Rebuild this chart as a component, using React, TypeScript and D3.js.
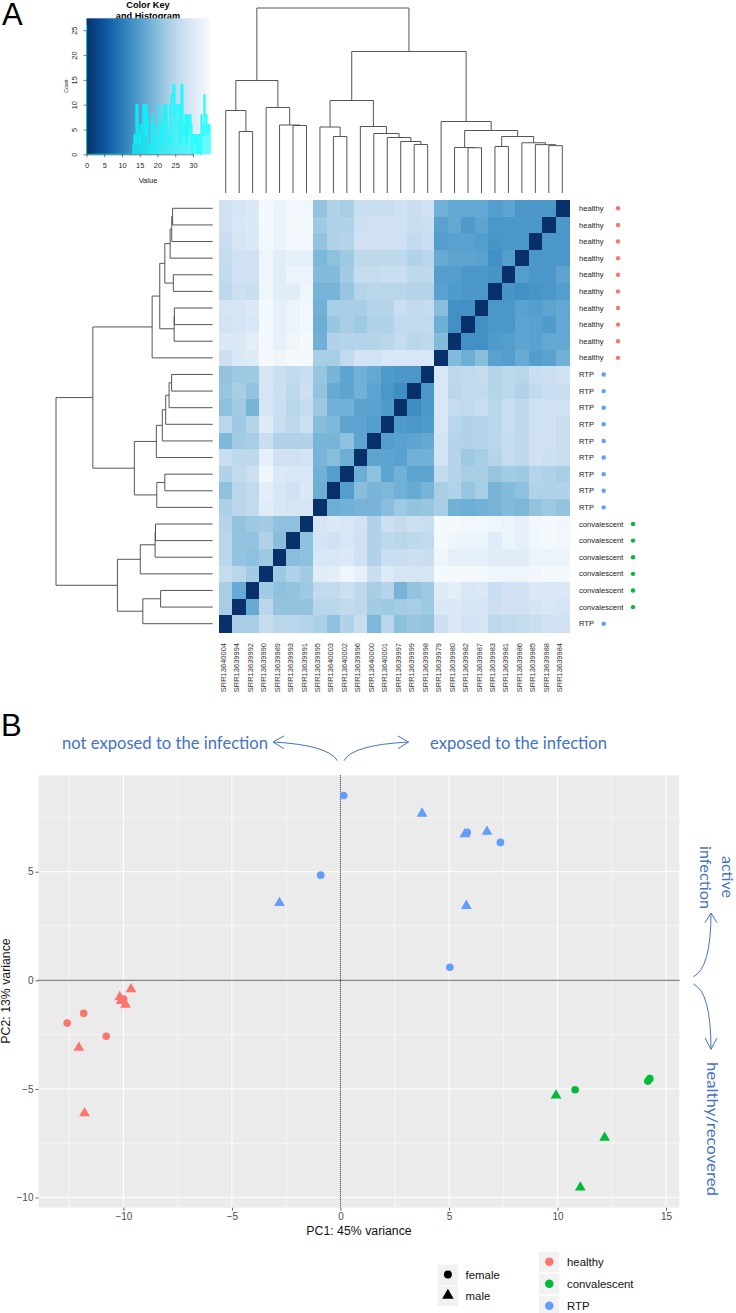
import React from "react";
import * as d3 from "d3";

// leaf order of both dendrograms, left to right along the bottom of the heatmap
const sampleIds = [
  "SRR13640004", "SRR13639994", "SRR13639992", "SRR13639990", "SRR13639989", "SRR13639993", "SRR13639991",
  "SRR13639995", "SRR13640003", "SRR13640002", "SRR13639996", "SRR13640000", "SRR13640001", "SRR13639997",
  "SRR13639999", "SRR13639998", "SRR13639979", "SRR13639980", "SRR13639982", "SRR13639987", "SRR13639983",
  "SRR13639981", "SRR13639986", "SRR13639985", "SRR13639988", "SRR13639984",
];

const rowGroups = [
  "healthy", "healthy", "healthy", "healthy", "healthy", "healthy", "healthy", "healthy", "healthy", "healthy",
  "RTP", "RTP", "RTP", "RTP", "RTP", "RTP", "RTP", "RTP", "RTP",
  "convalescent", "convalescent", "convalescent", "convalescent", "convalescent", "convalescent",
  "RTP",
];

// sample distances, top-left triangle of the matrix (row r holds columns 0..25-r)
const distances = [
  [28, 29, 30, 34.5, 33, 34, 34, 21, 24, 23, 27, 27, 27, 28, 27, 28, 18, 16.5, 16.5, 16.5, 15, 16, 14, 14, 14, 0],
  [28, 29.5, 30, 34.5, 33, 34.5, 34.5, 22, 24, 24, 27.5, 28, 28, 28, 27, 27.5, 15.5, 16.5, 14.5, 16, 14, 14, 14, 14, 0],
  [27, 29, 30, 34, 33, 34, 34, 21, 24, 24.5, 28, 28, 28, 28, 26, 27, 15, 15.5, 15.5, 15, 13.5, 14, 14, 0],
  [26.5, 28, 28, 33.5, 31, 32, 32, 19, 20.5, 22, 25.5, 25.5, 25.5, 25.5, 24, 25, 17, 16, 16, 15.5, 13, 15, 0],
  [26, 28, 28, 33.5, 31, 33, 33, 19.5, 19.5, 22.5, 26.5, 26.5, 27, 27, 25.5, 25.5, 15, 15, 14, 14, 13.5, 0],
  [25.5, 27.5, 27, 33.5, 31, 31, 33.5, 18.5, 18.5, 21.5, 24.5, 25, 25, 25, 24.5, 24.5, 15.5, 14.5, 14, 14, 0],
  [29, 29, 30, 34.5, 32, 33, 34, 18, 23, 23, 23, 24.5, 24.5, 27, 26, 26.5, 20, 13, 13, 0],
  [28.5, 29, 29.5, 34.5, 32, 33, 34, 17.5, 21.5, 23, 22, 24, 24, 26, 26, 26, 17.5, 13, 0],
  [30, 30, 31.5, 34.5, 32, 33.5, 34.5, 18, 24, 24.5, 24.5, 24.5, 25, 26.5, 25, 25.5, 19.5, 0],
  [27.5, 30, 30.5, 34.5, 33.5, 34.5, 34.5, 23, 23, 26, 28.5, 28.5, 29.5, 29.5, 29.5, 29.5, 0],
  [21, 22, 22, 29, 27, 26, 27, 21.5, 18.5, 16, 18, 16.5, 14.5, 14, 14, 0],
  [21.5, 23, 21, 29, 27.5, 25.5, 27.5, 21, 17, 16, 18, 16, 14, 12.5, 0],
  [20.5, 22.5, 18.5, 29, 27, 25, 26.5, 22, 18, 18, 15.5, 15.5, 14.5, 0],
  [25, 22, 24.5, 30.5, 27, 25.5, 27.5, 20, 19, 16, 16, 15, 0],
  [19, 22.5, 23, 27, 24, 24, 24, 18.5, 18.5, 20.5, 16, 0],
  [27, 25.5, 25.5, 32, 28, 28, 28.5, 18.5, 20, 17.5, 0],
  [24, 26, 27.5, 33.5, 30, 29.5, 29.5, 18, 15, 0],
  [20.5, 25, 26, 31.5, 29.5, 28, 30, 17.5, 0],
  [23.5, 25, 26, 31, 29.5, 29, 29, 0],
  [24.5, 21, 22, 22.5, 20.5, 20.5, 0],
  [25, 21, 21, 24, 20, 0],
  [25, 21, 20.5, 22, 0],
  [26.5, 25, 22.5, 0],
  [23, 17, 0],
  [23, 0],
  [0],
];

// hclust tree as [height, left, right], leaves are indexes into sampleIds
type Tree = number | [number, Tree, Tree];
const clusterTree: Tree = [37,
  [22.5,
    [16.5, 0, [12.3, 1, 2]],
    [17.1, 3, [13.6, 4, [13.5, 5, 6]]],
  ],
  [28.3,
    [18.5,
      [13.2, 7, [11.3, 8, 9]],
      [13.3, 10, [11.9, 11, [11.1, 12, [10.3, 13, [9.7, 14, 15]]]]],
    ],
    [14.3, 16,
      [12.5,
        [9.1, 17, [9.05, 18, 19]],
        [11.3, [9.3, 20, 21], [10.05, 22, [9.67, 23, [9.47, 24, 25]]]],
      ],
    ],
  ],
];

const histStart = 13.1;
const histBinWidth = 0.2817;
const histCounts = [
  2, 4, 2, 10, 10, 6, 2, 4, 6, 6, 10, 10, 4, 10, 8, 2, 0, 2, 6, 8, 6, 6, 4, 0, 2, 6, 10, 6, 2, 6, 8, 10, 6, 10, 6, 4, 2,
  10, 12, 12, 14, 14, 8, 10, 10, 10, 10, 2, 14, 14, 6, 4, 8, 2, 8, 4, 8, 8, 6, 0, 4, 4, 2, 4, 0, 4, 4, 0, 8, 6, 4, 12, 8, 8, 4, 6, 6, 4,
];

interface ISample { pc1: number; pc2: number; group: string; sex: string; }
const healthySamples: ISample[] = [
  { pc1: -9.65, pc2: -0.41, group: "healthy", sex: "male" },
  { pc1: -10.17, pc2: -0.77, group: "healthy", sex: "male" },
  { pc1: -10.1, pc2: -0.95, group: "healthy", sex: "male" },
  { pc1: -9.9, pc2: -1.12, group: "healthy", sex: "male" },
  { pc1: -12.05, pc2: -3.1, group: "healthy", sex: "male" },
  { pc1: -11.79, pc2: -6.12, group: "healthy", sex: "male" },
  { pc1: -9.99, pc2: -0.86, group: "healthy", sex: "female" },
  { pc1: -11.83, pc2: -1.52, group: "healthy", sex: "female" },
  { pc1: -12.59, pc2: -1.97, group: "healthy", sex: "female" },
  { pc1: -10.79, pc2: -2.58, group: "healthy", sex: "female" },
];
const convalescentSamples: ISample[] = [
  { pc1: 14.25, pc2: -4.53, group: "convalescent", sex: "female" },
  { pc1: 14.16, pc2: -4.64, group: "convalescent", sex: "female" },
  { pc1: 10.81, pc2: -5.04, group: "convalescent", sex: "female" },
  { pc1: 9.93, pc2: -5.3, group: "convalescent", sex: "male" },
  { pc1: 12.17, pc2: -7.25, group: "convalescent", sex: "male" },
  { pc1: 11.05, pc2: -9.54, group: "convalescent", sex: "male" },
];
const rtpSamples: ISample[] = [
  { pc1: 0.15, pc2: 8.51, group: "RTP", sex: "female" },
  { pc1: 3.76, pc2: 7.68, group: "RTP", sex: "male" },
  { pc1: 5.73, pc2: 6.73, group: "RTP", sex: "male" },
  { pc1: 5.84, pc2: 6.81, group: "RTP", sex: "female" },
  { pc1: 6.75, pc2: 6.84, group: "RTP", sex: "male" },
  { pc1: 7.37, pc2: 6.35, group: "RTP", sex: "female" },
  { pc1: -0.91, pc2: 4.84, group: "RTP", sex: "female" },
  { pc1: -2.81, pc2: 3.56, group: "RTP", sex: "male" },
  { pc1: 5.8, pc2: 3.43, group: "RTP", sex: "male" },
  { pc1: 5.04, pc2: 0.6, group: "RTP", sex: "female" },
];

const groupNames = ["healthy", "convalescent", "RTP"];
const groupColors = ["#F8766D", "#00BA38", "#619CFF"];
const sexNames = ["female", "male"];

const sans = "'Liberation Sans', Arial, sans-serif";
const noteFont = "Lato, 'Open Sans', sans-serif";
const noteColor = "#4472C4";

const color = d3.scaleSequential(d3.interpolateBlues).domain([35, 0]);
const groupColor = d3.scaleOrdinal<string, string>().domain(groupNames).range(groupColors);
const sexSymbol = d3.scaleOrdinal<string, d3.SymbolType>().domain(sexNames).range([d3.symbolCircle, d3.symbolTriangle]);

const cell = (r: number, c: number) => (c <= 25 - r ? distances[r][c] : distances[25 - c][25 - r]);

// walks the tree and appends the U shapes, leaf and height are mapped by the caller
function drawTree(tree: Tree, leaf: (i: number) => number, place: (p: d3.Path, a: number, b: number, first: boolean) => void, path: d3.Path, hScale: (h: number) => number): { pos: number; h: number } {
  if (typeof tree === "number") return { pos: leaf(tree), h: 0 };
  const [h, l, r] = tree;
  const a = drawTree(l, leaf, place, path, hScale);
  const b = drawTree(r, leaf, place, path, hScale);
  place(path, a.pos, hScale(a.h), true);
  place(path, a.pos, hScale(h), false);
  place(path, b.pos, hScale(h), false);
  place(path, b.pos, hScale(b.h), false);
  return { pos: (a.pos + b.pos) / 2, h };
}

const App = () => {
  const columnScale = d3.scaleBand<string>().domain(sampleIds).range([219, 569]);
  const rowScale = d3.scaleBand<number>().domain(d3.range(26)).range([200, 632]);
  const topHeight = d3.scaleLinear().domain([0, 37]).range([193, 8]);
  const leftHeight = d3.scaleLinear().domain([0, 37]).range([212.7, 56]);

  const topPath = d3.path();
  drawTree(clusterTree, (i) => columnScale(sampleIds[i])! + columnScale.bandwidth() / 2,
    (p, a, b, first) => (first ? p.moveTo(a, b) : p.lineTo(a, b)), topPath, topHeight);
  const leftPath = d3.path();
  drawTree(clusterTree, (i) => rowScale(25 - i)! + rowScale.bandwidth() / 2,
    (p, a, b, first) => (first ? p.moveTo(b, a) : p.lineTo(b, a)), leftPath, leftHeight);

  const keyX = d3.scaleLinear().domain([0, 35]).range([86.5, 210.7]);
  const keyY = d3.scaleLinear().domain([0, 27.4]).range([154.3, 18.3]);
  const histPoints: [number, number][] = [
    [0, 26], [0, 0], [histStart, 0],
    ...histCounts.map((n, i) => [histStart + i * histBinWidth, n] as [number, number]),
  ];
  const histLine = d3.line<[number, number]>().x((d) => keyX(d[0])).y((d) => keyY(d[1])).curve(d3.curveStepAfter);

  const pcaX = d3.scaleLinear().domain([-13.91, 15.61]).range([38.5, 679.3]);
  const pcaY = d3.scaleLinear().domain([-10.47, 9.44]).range([1207.7, 775.3]);
  const samples = [...healthySamples, ...convalescentSamples, ...rtpSamples];
  const symbol = d3.symbol<string>().type((s) => sexSymbol(s)).size((s) => (s === "male" ? 50 : 46));

  const keyXAxis = React.useRef<SVGGElement>(null);
  const keyYAxis = React.useRef<SVGGElement>(null);
  const pcaXAxis = React.useRef<SVGGElement>(null);
  const pcaYAxis = React.useRef<SVGGElement>(null);

  React.useEffect(() => {
    const kx = keyX.copy().domain([0, 30]).range([keyX(0), keyX(30)]);
    const ky = keyY.copy().domain([0, 25]).range([keyY(0), keyY(25)]);
    const gx = d3.select(keyXAxis.current!).call(d3.axisBottom(kx).tickValues([0, 5, 10, 15, 20, 25, 30]).tickSize(3).tickSizeOuter(0).tickFormat(d3.format("d")));
    gx.selectAll("text").attr("font-size", 7.4).attr("font-family", sans).attr("y", 8).attr("fill", "#222");
    gx.selectAll("line, path").attr("stroke", "#444").attr("stroke-width", 0.7);
    const gy = d3.select(keyYAxis.current!).call(d3.axisLeft(ky).tickValues([0, 5, 10, 15, 20, 25]).tickSize(3).tickSizeOuter(0).tickFormat(d3.format("d")));
    gy.selectAll("text").attr("font-size", 7.4).attr("font-family", sans).attr("fill", "#222")
      .attr("x", 0).attr("dy", 0).attr("text-anchor", "middle").attr("transform", "translate(-10,0) rotate(-90)");
    gy.selectAll("line, path").attr("stroke", "#444").attr("stroke-width", 0.7);

    const px = d3.select(pcaXAxis.current!).call(d3.axisBottom(pcaX).tickValues([-10, -5, 0, 5, 10, 15]).tickSize(3).tickSizeOuter(0));
    px.select(".domain").remove();
    px.selectAll("text").attr("font-size", 10).attr("font-family", sans).attr("fill", "#4D4D4D").attr("y", 5);
    px.selectAll("line").attr("stroke", "#333").attr("stroke-width", 0.8);
    const py = d3.select(pcaYAxis.current!).call(d3.axisLeft(pcaY).tickValues([-10, -5, 0, 5]).tickSize(3).tickSizeOuter(0));
    py.select(".domain").remove();
    py.selectAll("text").attr("font-size", 10).attr("font-family", sans).attr("fill", "#4D4D4D").attr("x", -5);
    py.selectAll("line").attr("stroke", "#333").attr("stroke-width", 0.8);
  }, []);

  const curve = (x0: number, y0: number, cx: number, cy: number, x1: number, y1: number) => {
    const p = d3.path();
    p.moveTo(x0, y0);
    p.quadraticCurveTo(cx, cy, x1, y1);
    return p.toString();
  };
  const head = (x0: number, y0: number, x1: number, y1: number, x2: number, y2: number) => {
    const p = d3.path();
    p.moveTo(x0, y0);
    p.lineTo(x1, y1);
    p.lineTo(x2, y2);
    return p.toString();
  };

  return (
    <svg width={736} height={1313} style={{ position: "absolute", left: 0, top: 0, background: "#fff" }}>
      <defs>
        <linearGradient id="keyFill" x1="0" x2="1" y1="0" y2="0">
          {d3.range(0, 36, 2.5).map((v) => (
            <stop key={v} offset={v / 35} stopColor={color(v)} />
          ))}
        </linearGradient>
      </defs>

      <text x={2} y={25} fontFamily={sans} fontSize={31}>A</text>
      <text x={1} y={736} fontFamily={sans} fontSize={31}>B</text>

      {/* colour key */}
      <g fontFamily={sans} textAnchor="middle">
        <text x={148} y={8} fontSize={9.2} fontWeight="bold">Color Key</text>
        <text x={148} y={18.5} fontSize={9.2} fontWeight="bold">and Histogram</text>
        <rect x={keyX(0)} y={keyY(27.4)} width={keyX(35) - keyX(0)} height={keyY(0) - keyY(27.4)} fill="url(#keyFill)" />
        {histCounts.map((n, i) => (
          <rect key={i} x={keyX(histStart + i * histBinWidth)} y={keyY(n)} width={keyX(histBinWidth) - keyX(0)}
            height={keyY(0) - keyY(n)} fill="#00FFFF" fillOpacity={0.6} />
        ))}
        <path d={histLine(histPoints)!} fill="none" stroke="#00FFFF" strokeWidth={1} />
        <g ref={keyXAxis} transform={`translate(0, ${keyY(0)})`} />
        <g ref={keyYAxis} transform={`translate(${keyX(0)}, 0)`} />
        <text x={148} y={183} fontSize={7.5} fill="#222">Value</text>
        <text transform="translate(67.5, 86) rotate(-90)" fontSize={5} fill="#222">Count</text>
      </g>

      {/* dendrograms */}
      <path d={topPath.toString()} fill="none" stroke="#555" strokeWidth={1} />
      <path d={leftPath.toString()} fill="none" stroke="#555" strokeWidth={1} />

      {/* heatmap */}
      <g shapeRendering="crispEdges">
        {rowGroups.map((_, r) =>
          sampleIds.map((id, c) => (
            <rect key={id + r} x={columnScale(id)} y={rowScale(r)} width={columnScale.bandwidth() + 0.5}
              height={rowScale.bandwidth() + 0.5} fill={color(cell(r, c))} />
          ))
        )}
      </g>

      {sampleIds.map((id) => (
        <text key={id} transform={`translate(${columnScale(id)! + columnScale.bandwidth() / 2}, 643) rotate(-90)`}
          textAnchor="end" fontFamily={sans} fontSize={7.5} fill="#333">{id}</text>
      ))}

      {rowGroups.map((g, r) => {
        const y = rowScale(r)! + rowScale.bandwidth() / 2;
        const dotX = g === "healthy" ? 618 : g === "RTP" ? 603.7 : 633;
        return (
          <g key={r}>
            <text x={579} y={y + 2.6} fontFamily={sans} fontSize={7.6} fill="#222">{g}</text>
            <circle cx={dotX} cy={y} r={2.2} fill={groupColor(g)} />
          </g>
        );
      })}

      {/* PCA panel */}
      <rect x={pcaX(-13.91)} y={pcaY(9.44)} width={pcaX(15.61) - pcaX(-13.91)} height={pcaY(-10.47) - pcaY(9.44)} fill="#EBEBEB" />
      {[-12.5, -7.5, -2.5, 2.5, 7.5, 12.5].map((v) => (
        <line key={v} x1={pcaX(v)} x2={pcaX(v)} y1={pcaY(9.44)} y2={pcaY(-10.47)} stroke="#fff" strokeWidth={0.5} />
      ))}
      {[-7.5, -2.5, 2.5, 7.5].map((v) => (
        <line key={v} x1={pcaX(-13.91)} x2={pcaX(15.61)} y1={pcaY(v)} y2={pcaY(v)} stroke="#fff" strokeWidth={0.5} />
      ))}
      {[-10, -5, 0, 5, 10, 15].map((v) => (
        <line key={v} x1={pcaX(v)} x2={pcaX(v)} y1={pcaY(9.44)} y2={pcaY(-10.47)} stroke="#fff" strokeWidth={1} />
      ))}
      {[-10, -5, 0, 5].map((v) => (
        <line key={v} x1={pcaX(-13.91)} x2={pcaX(15.61)} y1={pcaY(v)} y2={pcaY(v)} stroke="#fff" strokeWidth={1} />
      ))}
      <line x1={pcaX(0)} x2={pcaX(0)} y1={pcaY(9.44)} y2={pcaY(-10.47)} stroke="#111" strokeWidth={1} strokeDasharray="1 1" />
      <line x1={pcaX(-13.91)} x2={pcaX(15.61)} y1={pcaY(0)} y2={pcaY(0)} stroke="#111" strokeWidth={1.3} strokeDasharray="1 1" />

      {samples.map((d, i) => (
        <path key={i} d={symbol(d.sex)!} transform={`translate(${pcaX(d.pc1)}, ${pcaY(d.pc2)})`} fill={groupColor(d.group)} />
      ))}

      <g ref={pcaXAxis} transform={`translate(0, ${pcaY(-10.47)})`} />
      <g ref={pcaYAxis} transform={`translate(${pcaX(-13.91)}, 0)`} />
      <text x={359} y={1235} textAnchor="middle" fontFamily={sans} fontSize={12.3} fill="#111">PC1: 45% variance</text>
      <text transform="translate(10, 991) rotate(-90)" textAnchor="middle" fontFamily={sans} fontSize={12.3} fill="#111">PC2: 13% variance</text>

      {/* legends */}
      {sexNames.map((s, i) => (
        <g key={s} transform={`translate(437.6, ${1265 + i * 20.8})`}>
          <rect width={20.6} height={20.2} fill="#F2F2F2" />
          <path d={d3.symbol().type(sexSymbol(s)).size(s === "male" ? 58 : 50)()!} transform="translate(10.3, 9.6)" fill="#000" />
          <text x={28} y={14} fontFamily={sans} fontSize={11.4} fill="#111">{s}</text>
        </g>
      ))}
      {groupNames.map((g, i) => (
        <g key={g} transform={`translate(539, ${1251.7 + i * 22})`}>
          <rect width={20} height={20.5} fill="#F2F2F2" />
          <circle cx={10.3} cy={10} r={4.3} fill={groupColor(g)} />
          <text x={28} y={14} fontFamily={sans} fontSize={11.4} fill="#111">{g}</text>
        </g>
      ))}

      {/* hand drawn notes */}
      <g fontFamily={noteFont} fill={noteColor} fontSize={17}>
        <text x={62} y={749} textLength={206} lengthAdjust="spacingAndGlyphs">not exposed to the infection</text>
        <text x={430} y={749} textLength={177} lengthAdjust="spacingAndGlyphs">exposed to the infection</text>
        <text transform="translate(722, 856) rotate(90)" fontSize={15} textLength={42} lengthAdjust="spacingAndGlyphs">active</text>
        <text transform="translate(700, 846) rotate(90)" fontSize={15} textLength={63} lengthAdjust="spacingAndGlyphs">infection</text>
        <text transform="translate(707, 1062) rotate(90)" fontSize={15} textLength={134} lengthAdjust="spacingAndGlyphs">healthy/recovered</text>
      </g>
      <g fill="none" stroke={noteColor} strokeWidth={1}>
        <path d={curve(337.5, 760.7, 328, 745, 273, 742)} />
        <path d={head(284, 736, 273, 742, 284, 748.7)} />
        <path d={curve(344, 760.7, 352, 745, 408.5, 742)} />
        <path d={head(398, 736, 408.5, 742, 398, 748.7)} />
        <path d={curve(693.4, 976.7, 711, 968, 711, 913)} />
        <path d={head(705, 922.7, 711, 913, 717, 922.7)} />
        <path d={curve(693.4, 984, 711, 992, 711, 1049.3)} />
        <path d={head(705, 1038, 711, 1049.3, 717, 1038)} />
      </g>
    </svg>
  );
};

export default App;
